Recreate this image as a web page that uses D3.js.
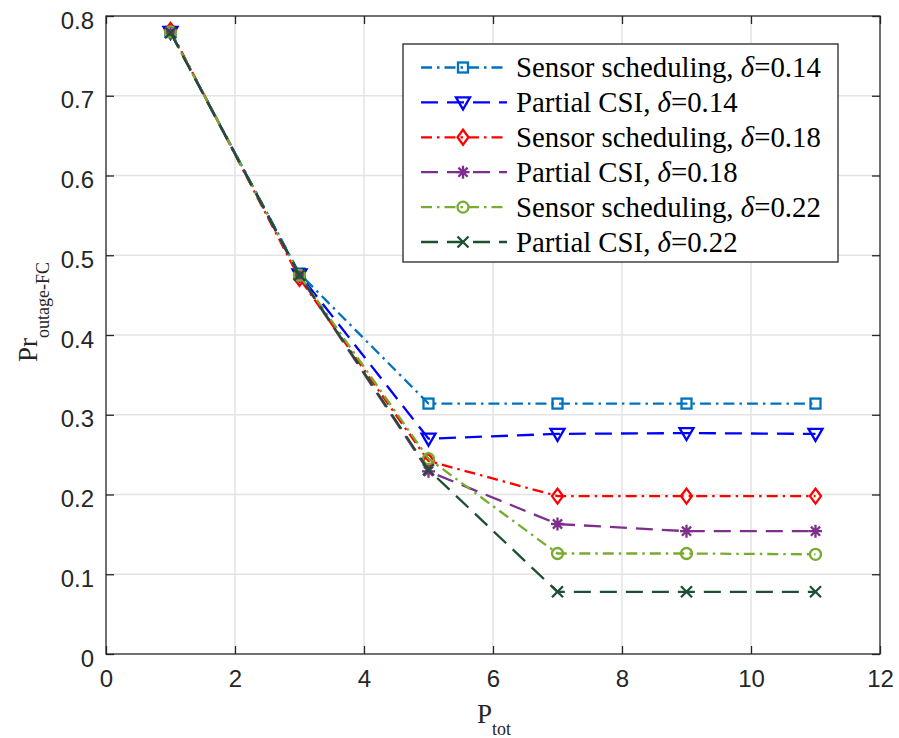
<!DOCTYPE html>
<html>
<head>
<meta charset="utf-8">
<script src="https://cdn.jsdelivr.net/npm/d3@7"></script>
<style>
  body { margin: 0; background: #fff; }
  svg { display: block; }
</style>
</head>
<body>
<script>
const pTot = [1, 3, 5, 7, 9, 11]
const ssDelta014 = [0.780, 0.477, 0.314, 0.314, 0.314, 0.314]
const csiDelta014 = [0.780, 0.476, 0.270, 0.276, 0.277, 0.276]
const ssDelta018 = [0.782, 0.471, 0.242, 0.198, 0.198, 0.198]
const csiDelta018 = [0.780, 0.474, 0.229, 0.163, 0.154, 0.154]
const ssDelta022 = [0.780, 0.475, 0.245, 0.126, 0.126, 0.125]
const csiDelta022 = [0.779, 0.475, 0.231, 0.078, 0.078, 0.078]
const xTicks = [0, 2, 4, 6, 8, 10, 12]
const yTicks = [0, 0.1, 0.2, 0.3, 0.4, 0.5, 0.6, 0.7, 0.8]

const series = [
  { name: 'Sensor scheduling, ', delta: '0.14', values: ssDelta014, color: '#0072BD', dash: '11,5,2.5,5', marker: 'square' },
  { name: 'Partial CSI, ', delta: '0.14', values: csiDelta014, color: '#0000FF', dash: '17,9', marker: 'triangle' },
  { name: 'Sensor scheduling, ', delta: '0.18', values: ssDelta018, color: '#FF0000', dash: '11,5,2.5,5', marker: 'diamond' },
  { name: 'Partial CSI, ', delta: '0.18', values: csiDelta018, color: '#7E2F8E', dash: '17,9', marker: 'asterisk' },
  { name: 'Sensor scheduling, ', delta: '0.22', values: ssDelta022, color: '#77AC30', dash: '11,5,2.5,5', marker: 'circle' },
  { name: 'Partial CSI, ', delta: '0.22', values: csiDelta022, color: '#1D4F31', dash: '17,9', marker: 'cross' }
]

const size = { width: 899, height: 738 }
const plot = { left: 106, right: 880, top: 16, bottom: 654 }
const axisColor = '#262626'

const svg = d3.select('body').append('svg')
  .attr('width', size.width)
  .attr('height', size.height)

const x = d3.scaleLinear().domain([0, 12]).range([plot.left, plot.right])
const y = d3.scaleLinear().domain([0, 0.8]).range([plot.bottom, plot.top])

// grid
svg.append('g').selectAll('line').data(xTicks.slice(1, -1)).enter().append('line')
  .attr('x1', d => x(d)).attr('x2', d => x(d))
  .attr('y1', plot.top).attr('y2', plot.bottom)
  .attr('stroke', '#e3e3e3').attr('stroke-width', 1.5)
svg.append('g').selectAll('line').data(yTicks.slice(1, -1)).enter().append('line')
  .attr('y1', d => y(d)).attr('y2', d => y(d))
  .attr('x1', plot.left).attr('x2', plot.right)
  .attr('stroke', '#e3e3e3').attr('stroke-width', 1.5)

// axes with inward ticks, box on all four sides
const tickLen = 8
function styleAxis(g) {
  g.select('.domain').remove()
  g.selectAll('.tick line').attr('stroke', axisColor).attr('stroke-width', 1.3)
  g.selectAll('.tick text')
    .attr('fill', axisColor)
    .style('font-family', '"Liberation Sans", Arial, sans-serif')
    .style('font-size', '24px')
}

svg.append('g')
  .attr('transform', 'translate(0,' + plot.bottom + ')')
  .call(d3.axisBottom(x).tickValues(xTicks).tickSize(-tickLen).tickPadding(16))
  .call(styleAxis)
svg.append('g')
  .attr('transform', 'translate(0,' + plot.top + ')')
  .call(d3.axisTop(x).tickValues(xTicks).tickSize(-tickLen).tickFormat(''))
  .call(styleAxis)
svg.append('g')
  .attr('transform', 'translate(' + plot.left + ',0)')
  .call(d3.axisLeft(y).tickValues(yTicks).tickSize(-tickLen).tickPadding(12)
    .tickFormat(d => d === 0 ? '0' : d3.format('.1f')(d)))
  .call(styleAxis)
  .selectAll('.tick text').attr('dy', '0.5em')
svg.append('g')
  .attr('transform', 'translate(' + plot.right + ',0)')
  .call(d3.axisRight(y).tickValues(yTicks).tickSize(-tickLen).tickFormat(''))
  .call(styleAxis)

svg.append('rect')
  .attr('x', plot.left).attr('y', plot.top)
  .attr('width', plot.right - plot.left).attr('height', plot.bottom - plot.top)
  .attr('fill', 'none').attr('stroke', axisColor).attr('stroke-width', 1.3)

// markers
function drawMarker(g, type, cx, cy, color) {
  const m = g.append('g').attr('transform', 'translate(' + cx + ',' + cy + ')')
    .attr('stroke', color).attr('stroke-width', 2.3).attr('fill', 'none')
  if (type === 'square') {
    m.append('rect').attr('x', -5).attr('y', -5).attr('width', 10).attr('height', 10)
  } else if (type === 'triangle') {
    m.append('path').attr('d', 'M-7,-5L7,-5L0,7Z')
  } else if (type === 'diamond') {
    m.append('path').attr('d', 'M0,-7.5L5.5,0L0,7.5L-5.5,0Z')
  } else if (type === 'circle') {
    m.append('circle').attr('r', 5.5)
  } else if (type === 'cross') {
    m.append('path').attr('d', 'M-5.5,-5.5L5.5,5.5M-5.5,5.5L5.5,-5.5')
  } else if (type === 'asterisk') {
    m.append('path').attr('d', 'M-6.5,0L6.5,0M0,-6.5L0,6.5M-4.6,-4.6L4.6,4.6M-4.6,4.6L4.6,-4.6')
  }
}

const line = d3.line().x(d => x(d[0])).y(d => y(d[1]))

series.forEach(s => {
  const pts = pTot.map((p, i) => [p, s.values[i]])
  const g = svg.append('g')
  g.append('path')
    .attr('d', line(pts))
    .attr('fill', 'none')
    .attr('stroke', s.color)
    .attr('stroke-width', 2.3)
    .attr('stroke-dasharray', s.dash)
  pts.forEach(p => drawMarker(g, s.marker, x(p[0]), y(p[1]), s.color))
})

// legend
const legend = { x: 403, y: 44, width: 435, height: 218, row: 34.9 }
const lg = svg.append('g')
lg.append('rect')
  .attr('x', legend.x).attr('y', legend.y)
  .attr('width', legend.width).attr('height', legend.height)
  .attr('fill', '#fff').attr('stroke', axisColor).attr('stroke-width', 1.3)

series.forEach((s, i) => {
  const cy = legend.y + 23.5 + i * legend.row
  lg.append('line')
    .attr('x1', 421).attr('x2', 507).attr('y1', cy).attr('y2', cy)
    .attr('stroke', s.color).attr('stroke-width', 2.3)
    .attr('stroke-dasharray', s.dash)
  drawMarker(lg, s.marker, 463, cy, s.color)
  const t = lg.append('text')
    .attr('x', 516).attr('y', cy + 9.5)
    .attr('fill', '#000')
    .style('font-family', '"Liberation Serif", "Times New Roman", serif')
    .style('font-size', '28.8px')
  t.append('tspan').text(s.name)
  t.append('tspan').style('font-style', 'italic').text('δ')
  t.append('tspan').text('=' + s.delta)
})

// axis labels
const xl = svg.append('text')
  .attr('x', 494).attr('y', 723)
  .attr('text-anchor', 'middle')
  .attr('fill', axisColor)
  .style('font-family', '"Liberation Serif", "Times New Roman", serif')
  .style('font-size', '27px')
xl.append('tspan').text('P')
xl.append('tspan').attr('dy', 12).style('font-size', '18px').text('tot')

const yl = svg.append('text')
  .attr('transform', 'translate(37,312)rotate(-90)')
  .attr('text-anchor', 'middle')
  .attr('fill', axisColor)
  .style('font-family', '"Liberation Serif", "Times New Roman", serif')
  .style('font-size', '27px')
yl.append('tspan').text('Pr')
yl.append('tspan').attr('dy', 12).style('font-size', '18px').text('outage-FC')
</script>
</body>
</html>
